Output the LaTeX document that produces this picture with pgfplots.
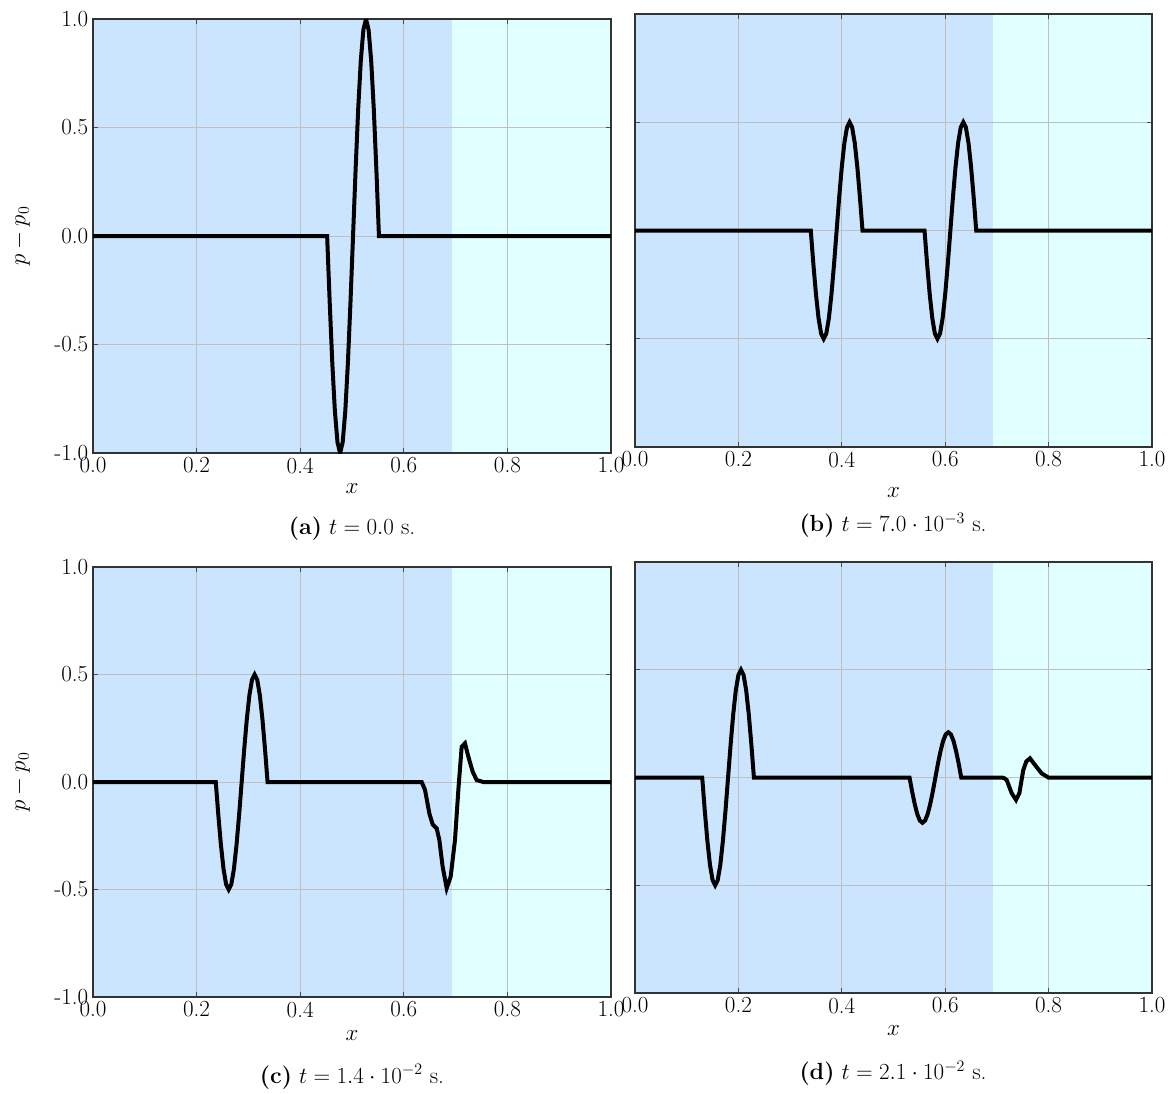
\documentclass[border=0pt]{standalone}
\usepackage{pgfplots}
\pgfplotsset{compat=1.18}
\definecolor{bgblue}{RGB}{204,229,255}
\definecolor{bgcyan}{RGB}{224,255,255}
\newcommand{\tickfont}{\fontsize{17.28}{20}\selectfont}
\newcommand{\capfont}{\fontsize{17.5}{20}\selectfont}
\pgfplotsset{
  panel/.style={
    scale only axis,
    set layers,
    xmin=0, xmax=1, ymin=-1, ymax=1,
    xtick={0,0.2,0.4,0.6,0.8,1},
    xticklabels={0.0,0.2,0.4,0.6,0.8,1.0},
    ytick={-1,-0.5,0,0.5,1},
    yticklabels={-1.0,-0.5,0.0,0.5,1.0},
    grid=major,
    major grid style={color=black!25, line width=0.6pt},
    axis line style={color=black!80, line width=0.8pt},
    major tick length=4pt,
    tick style={color=black!70, line width=0.6pt},
    tick label style={font=\tickfont},
    label style={font=\tickfont},
    xlabel={$x$},
    ylabel style={at={(axis description cs:-0.139,0.5)}, anchor=center},
  },
  xlab/.style={xlabel style={at={(axis description cs:0.5,0)}, anchor=center, yshift=-#1}},
  bgfill/.style={draw=none, on layer=axis background},
  curve/.style={black, line width=3pt, mark=none},
}
\begin{document}
\begin{tikzpicture}
% ---------------- (a)
\begin{axis}[panel, at={(69.75pt,-14.25pt)}, anchor=north west,
  width=388.5pt, height=325.5pt, ylabel={$p-p_0$}, xlab=27pt]
\addplot[bgfill, fill=bgblue] coordinates {(0,-1) (0,1) (0.693,1) (0.693,-1)};
\addplot[bgfill, fill=bgcyan] coordinates {(0.693,-1) (0.693,1) (1,1) (1,-1)};
\addplot[curve] coordinates {
(0,0) (0.452,0) (0.457,-0.309) (0.462,-0.588) (0.467,-0.809) (0.472,-0.951)
(0.477,-1) (0.482,-0.951) (0.487,-0.809) (0.492,-0.588) (0.497,-0.309)
(0.502,0) (0.507,0.309) (0.512,0.588) (0.517,0.809) (0.522,0.951)
(0.527,1) (0.532,0.951) (0.537,0.809) (0.542,0.588) (0.547,0.309)
(0.552,0) (1,0)};
\end{axis}
\node[font=\capfont] at (264pt,-396.5pt) {\textbf{(a)} $t=0.0$ s.};
% ---------------- (b)
\begin{axis}[panel, at={(476.25pt,-10.5pt)}, anchor=north west,
  width=387.75pt, height=324.75pt, yticklabels={}, xlab=34pt]
\addplot[bgfill, fill=bgblue] coordinates {(0,-1) (0,1) (0.693,1) (0.693,-1)};
\addplot[bgfill, fill=bgcyan] coordinates {(0.693,-1) (0.693,1) (1,1) (1,-1)};
\addplot[curve] coordinates {
(0,0) (0.340,0) (0.345,-0.155) (0.350,-0.294) (0.355,-0.405) (0.360,-0.476)
(0.365,-0.5) (0.370,-0.476) (0.375,-0.405) (0.380,-0.294) (0.385,-0.155)
(0.390,0) (0.395,0.155) (0.400,0.294) (0.405,0.405) (0.410,0.476)
(0.415,0.5) (0.420,0.476) (0.425,0.405) (0.430,0.294) (0.435,0.155)
(0.440,0)
(0.560,0) (0.565,-0.155) (0.570,-0.294) (0.575,-0.405) (0.580,-0.476)
(0.585,-0.5) (0.590,-0.476) (0.595,-0.405) (0.600,-0.294) (0.605,-0.155)
(0.610,0) (0.615,0.155) (0.620,0.294) (0.625,0.405) (0.630,0.476)
(0.635,0.5) (0.640,0.476) (0.645,0.405) (0.650,0.294) (0.655,0.155)
(0.660,0) (1,0)};
\end{axis}
\node[font=\capfont] at (669.75pt,-394pt) {\textbf{(b)} $t=7.0\cdot10^{-3}$ s.};
% ---------------- (c)
\begin{axis}[panel, at={(69.75pt,-425.25pt)}, anchor=north west,
  width=388.5pt, height=322.5pt, ylabel={$p-p_0$}, xlab=29pt]
\addplot[bgfill, fill=bgblue] coordinates {(0,-1) (0,1) (0.693,1) (0.693,-1)};
\addplot[bgfill, fill=bgcyan] coordinates {(0.693,-1) (0.693,1) (1,1) (1,-1)};
\addplot[curve] coordinates {
(0,0) (0.237,0) (0.242,-0.155) (0.247,-0.294) (0.252,-0.405) (0.257,-0.476)
(0.262,-0.5) (0.267,-0.476) (0.272,-0.405) (0.277,-0.294) (0.282,-0.155)
(0.287,0) (0.292,0.155) (0.297,0.294) (0.302,0.405) (0.307,0.476)
(0.312,0.5) (0.317,0.476) (0.322,0.405) (0.327,0.294) (0.332,0.155)
(0.337,0)
(0.6345,0) (0.641,-0.037) (0.6493,-0.146) (0.6557,-0.197) (0.6635,-0.216)
(0.6686,-0.270) (0.675,-0.394) (0.6828,-0.494) (0.6905,-0.440) (0.6988,-0.270)
(0.7053,-0.037) (0.7117,0.164) (0.7181,0.180) (0.7246,0.118) (0.733,0.048)
(0.7407,0.009) (0.7536,0) (1,0)};
\end{axis}
\node[font=\capfont] at (264pt,-807.5pt) {\textbf{(c)} $t=1.4\cdot10^{-2}$ s.};
% ---------------- (d)
\begin{axis}[panel, at={(476.25pt,-421.5pt)}, anchor=north west,
  width=387.75pt, height=323.25pt, yticklabels={}, xlab=28.5pt]
\addplot[bgfill, fill=bgblue] coordinates {(0,-1) (0,1) (0.693,1) (0.693,-1)};
\addplot[bgfill, fill=bgcyan] coordinates {(0.693,-1) (0.693,1) (1,1) (1,-1)};
\addplot[curve] coordinates {
(0,0) (0.130,0) (0.135,-0.155) (0.140,-0.294) (0.145,-0.405) (0.150,-0.476)
(0.155,-0.5) (0.160,-0.476) (0.165,-0.405) (0.170,-0.294) (0.175,-0.155)
(0.180,0) (0.185,0.155) (0.190,0.294) (0.195,0.405) (0.200,0.476)
(0.205,0.5) (0.210,0.476) (0.215,0.405) (0.220,0.294) (0.225,0.155)
(0.230,0)
(0.531,0) (0.536,-0.065) (0.541,-0.123) (0.546,-0.170) (0.551,-0.200)
(0.556,-0.21) (0.561,-0.200) (0.566,-0.170) (0.571,-0.123) (0.576,-0.065)
(0.581,0) (0.586,0.065) (0.591,0.123) (0.596,0.170) (0.601,0.200)
(0.606,0.21) (0.611,0.200) (0.616,0.170) (0.621,0.123) (0.626,0.065)
(0.631,0)
(0.7093,0) (0.714,-0.003) (0.719,-0.012) (0.7286,-0.073) (0.737,-0.104)
(0.7434,-0.073) (0.751,0.035) (0.757,0.075) (0.764,0.089) (0.7737,0.058)
(0.7866,0.019) (0.7995,0) (1,0)};
\end{axis}
\node[font=\capfont] at (669.75pt,-804.75pt) {\textbf{(d)} $t=2.1\cdot10^{-2}$ s.};
\pgfresetboundingbox
\useasboundingbox (0,0) rectangle (879.75pt,-819.75pt);
\end{tikzpicture}
\end{document}
